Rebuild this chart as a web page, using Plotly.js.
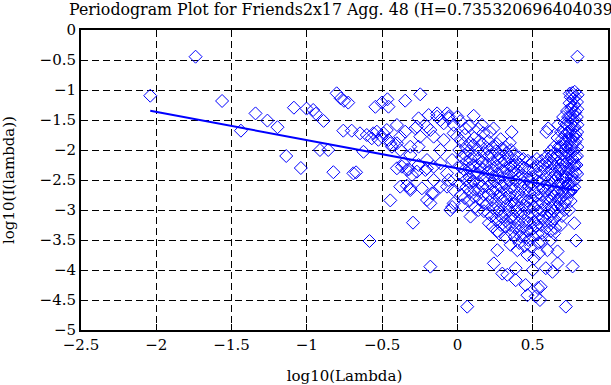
<!DOCTYPE html>
<html>
<head>
<meta charset="utf-8">
<script src="https://cdn.plot.ly/plotly-3.0.1.min.js"></script>
<style>
html,body{margin:0;padding:0;background:#fff;}
#chart{width:611px;height:385px;}
</style>
</head>
<body>
<div id="chart"></div>
<script>
// Low-frequency (sparse) periodogram points: log10(Lambda), log10(I(lambda))
const lambdaLow = [
-2.040,-1.739,-1.563,-1.438,-1.341,-1.262,-1.195,-1.137,-1.086,-1.040,
-1.002,-0.958,-0.940,-0.913,-0.889,-0.858,-0.824,-0.802,-0.775,-0.753,
-0.725,-0.758,-0.702,-0.691,-0.673,-0.647,-0.624,-0.602,-0.584,-0.569,
-0.558,-0.545,-0.535,-0.525,-0.502,-0.502,-0.491,-0.469,-0.465,-0.458,
-0.458,-0.446,-0.446,-0.435,-0.402,-0.402,-0.402,-0.380,-0.380,-0.380,
-0.369,-0.358,-0.347,-0.347,-0.336,-0.335,-0.324,-0.313,-0.313,-0.313,
-0.313,-0.302,-0.295,-0.280,-0.269,-0.269,-0.258,-0.258,-0.258,-0.247,
-0.247,-0.236,-0.213,-0.202,-0.202,-0.202,-0.202,-0.191,-0.180,-0.180,
-0.180,-0.169,-0.158,-0.158,-0.158,-0.158,-0.135,-0.135,-0.113,-0.113,
-0.113,-0.113,-0.091,-0.091,-0.069,-0.069,-0.068,-0.058,-0.058,-0.058,
-0.047,-0.035,-0.035,-0.025,-0.025,-0.025,-0.025,-0.002,0.000
];
const powerLow = [
-1.095,-0.445,-1.183,-1.678,-1.390,-1.510,-1.620,-2.100,-1.295,-2.300,
-1.310,-1.333,-1.395,-2.000,-1.515,-2.000,-2.370,-1.055,-1.140,-1.180,
-1.210,-1.678,-1.678,-2.389,-2.372,-1.722,-2.030,-1.750,-3.517,-1.805,
-1.722,-1.280,-1.695,-1.830,-1.210,-1.778,-1.722,-1.667,-1.155,-1.278,
-1.833,-2.840,-1.889,-1.945,-1.583,-1.888,-2.305,-1.778,-2.000,-2.611,
-2.278,-2.222,-1.178,-1.695,-2.595,-2.333,-2.322,-2.083,-2.639,-1.945,
-2.667,-2.417,-3.211,-1.638,-2.361,-1.611,-1.472,-1.945,-2.250,-1.072,
-1.778,-2.639,-2.333,-1.611,-2.306,-2.167,-2.833,-1.417,-2.889,-3.944,
-1.667,-2.722,-1.778,-2.278,-2.500,-2.722,-1.390,-1.445,-1.500,-2.000,
-2.222,-2.611,-1.833,-1.555,-2.611,-2.389,-1.390,-1.445,-1.472,-2.500,
-3.000,-2.950,-2.167,-1.583,-1.722,-2.667,-2.889,-1.778,-1.445
];
// Middle frequencies
const lambdaMid = [
0.018,0.025,0.012,0.030,0.020,0.028,0.015,0.024,0.032,
0.053,0.048,0.056,0.050,0.058,0.046,0.055,0.060,0.049,0.065,
0.087,0.078,0.084,0.076,0.088,0.081,0.079,0.086,0.083,0.077,
0.108,0.112,0.105,0.115,0.109,0.117,0.104,0.113,0.110,0.118,
0.138,0.145,0.135,0.142,0.148,0.136,0.144,0.140,0.147,0.139,
0.163,0.172,0.168,0.175,0.165,0.171,0.178,0.166,0.174,0.169,0.176,
0.205,0.198,0.208,0.195,0.203,0.210,0.200,0.207,0.196,0.204,0.209,
0.216,0.240,0.232,0.225,0.236,0.228,0.238,0.222,0.234,0.229,0.237,0.226,0.233,0.242,
0.262,0.255,0.268,0.258,0.265,0.252,0.261,0.267,0.256,0.264,0.259,0.265,0.265,0.276,
0.287,0.294,0.283,0.291,0.297,0.285,0.292,0.288,0.296,0.284,0.293,0.289,0.298,
0.320,0.318,0.325,0.314,0.322,0.328,0.316,0.324,0.319,0.327,0.315,0.323,0.321,0.331,
0.353,0.360,0.348,0.356,0.345,0.352,0.358,0.347,0.355,0.350,0.357,0.346,0.354,0.349,0.359,
0.387,0.387,0.378,0.385,0.374,0.382,0.388,0.376,0.384,0.379,0.386,0.375,0.383,0.398,0.380,
0.408,0.415,0.404,0.412,0.418,0.406,0.414,0.409,0.416,0.405,0.413,0.420,0.411,
0.438,0.445,0.434,0.442,0.448,0.436,0.444,0.439,0.446,0.435,0.443,0.447,0.453,
0.468,0.475,0.464,0.472,0.478,0.466,0.474,0.469,0.476,0.465,0.473,0.465,0.487,0.465
];
const powerMid = [
-1.52,-1.85,-2.00,-2.12,-2.28,-2.42,-2.58,-2.75,-2.92,
-1.64,-1.75,-1.95,-2.08,-2.20,-2.33,-2.50,-2.62,-2.80,-4.611,
-3.11,-1.60,-1.88,-2.02,-2.15,-2.30,-2.45,-2.55,-2.70,-2.85,
-1.43,-1.80,-1.92,-2.10,-2.25,-2.38,-2.52,-2.66,-2.78,-2.95,
-1.65,-1.85,-2.00,-2.14,-2.28,-2.40,-2.55,-2.68,-2.82,-3.00,
-1.58,-1.72,-1.90,-2.05,-2.20,-2.32,-2.46,-2.60,-2.74,-2.88,-3.02,
-1.85,-1.98,-2.10,-2.25,-2.37,-2.50,-2.62,-2.75,-2.90,-3.05,-3.22,
-1.70,-1.64,-1.95,-2.08,-2.20,-2.32,-2.44,-2.56,-2.70,-2.83,-2.97,-3.10,-3.28,-3.89,
-1.90,-2.02,-2.15,-2.27,-2.40,-2.52,-2.64,-2.77,-2.90,-3.03,-3.17,-3.35,-3.67,-3.39,
-1.82,-1.98,-2.10,-2.22,-2.35,-2.47,-2.60,-2.72,-2.85,-2.98,-3.12,-3.25,-4.06,
-3.28,-1.95,-2.05,-2.18,-2.30,-2.42,-2.55,-2.67,-2.80,-2.92,-3.05,-3.18,-3.45,-4.08,
-3.58,-1.70,-1.88,-2.00,-2.12,-2.25,-2.37,-2.50,-2.62,-2.74,-2.87,-3.00,-3.12,-3.25,-3.38,
-3.97,-4.17,-2.08,-2.18,-2.28,-2.40,-2.52,-2.65,-2.78,-2.90,-3.03,-3.15,-3.30,-3.67,-3.45,
-2.12,-2.24,-2.35,-2.47,-2.60,-2.72,-2.85,-2.97,-3.10,-3.22,-3.35,-3.44,-3.55,
-2.15,-2.30,-2.42,-2.55,-2.68,-2.80,-2.93,-3.05,-3.18,-3.30,-3.45,-3.60,-4.25,
-2.18,-2.35,-2.48,-2.60,-2.72,-2.85,-2.97,-3.10,-3.22,-3.35,-3.50,-3.75,-3.61,-4.42
];
// High frequencies (dense cluster and mirrored tail)
const lambdaHigh = [
0.498,0.505,0.495,0.502,0.508,0.496,0.504,0.499,0.506,0.497,0.503,0.509,0.500,0.520,
0.528,0.535,0.524,0.532,0.538,0.526,0.534,0.529,0.536,0.525,0.533,0.542,0.537,0.535,
0.558,0.565,0.554,0.562,0.568,0.556,0.564,0.559,0.566,0.555,0.563,0.560,0.553,0.548,
0.590,0.588,0.595,0.584,0.592,0.598,0.586,0.594,0.589,0.596,0.585,0.593,0.598,0.587,
0.603,0.618,0.625,0.614,0.622,0.628,0.616,0.624,0.619,0.626,0.615,0.623,0.620,0.620,0.631,
0.642,0.648,0.638,0.646,0.651,0.640,0.647,0.643,0.650,0.639,0.645,0.649,0.642,
0.669,0.665,0.672,0.662,0.670,0.676,0.664,0.671,0.667,0.674,0.663,0.668,0.665,0.665,
0.702,0.688,0.694,0.685,0.692,0.697,0.686,0.693,0.689,0.696,0.684,0.691,0.695,0.687,
0.712,0.708,0.715,0.706,0.713,0.718,0.709,0.716,0.711,0.717,0.707,0.714,0.710,0.720,
0.728,0.735,0.724,0.732,0.738,0.726,0.734,0.729,0.736,0.725,0.733,0.739,0.727,0.742,
0.746,0.752,0.745,0.755,0.748,0.753,0.744,0.751,0.756,0.747,0.754,0.749,0.757,0.743,0.750,0.752,
0.765,0.776,0.762,0.768,0.760,0.766,0.770,0.763,0.767,0.761,0.769,0.764,0.771,0.762,0.768,0.765,
0.787,0.779,0.782,0.776,0.784,0.780,0.777,0.785,0.781,0.778,0.783,0.779,0.786,0.780,0.776,
0.797,0.798,0.794,0.796,0.793,0.797,0.795,0.792,0.796,0.794,0.791,0.795
];
const powerHigh = [
-2.20,-2.32,-2.45,-2.57,-2.70,-2.82,-2.95,-3.07,-3.20,-3.32,-3.45,-3.81,-4.00,-4.44,
-2.15,-2.27,-2.40,-2.52,-2.65,-2.77,-2.90,-3.02,-3.15,-3.27,-3.40,-3.72,-3.55,-4.30,
-2.18,-2.25,-2.37,-2.50,-2.62,-2.75,-2.87,-3.00,-3.12,-3.25,-3.38,-3.52,-4.28,-4.50,
-1.70,-2.12,-2.20,-2.30,-2.43,-2.55,-2.68,-2.80,-2.93,-3.05,-3.18,-3.30,-3.67,-3.97,
-1.64,-2.02,-2.10,-2.22,-2.35,-2.47,-2.60,-2.72,-2.85,-2.97,-3.10,-3.22,-3.35,-3.50,-4.03,
-1.95,-2.05,-2.15,-2.27,-2.40,-2.52,-2.65,-2.77,-2.90,-3.02,-3.15,-3.30,-3.39,
-1.58,-1.80,-1.95,-2.08,-2.20,-2.32,-2.45,-2.57,-2.70,-2.82,-2.95,-3.08,-3.69,-3.89,
-1.45,-1.70,-1.82,-1.95,-2.07,-2.20,-2.32,-2.45,-2.57,-2.70,-2.82,-2.95,-3.10,-3.25,
-1.55,-1.65,-1.75,-1.87,-2.00,-2.12,-2.25,-2.37,-2.50,-2.62,-2.75,-2.88,-3.00,-4.61,
-1.35,-1.45,-1.57,-1.70,-1.82,-1.95,-2.07,-2.20,-2.32,-2.45,-2.57,-2.70,-2.82,-3.00,
-1.06,-1.12,-1.22,-1.32,-1.45,-1.57,-1.70,-1.82,-1.95,-2.07,-2.20,-2.32,-2.45,-2.57,-2.70,-2.85,
-3.94,-3.22,-1.05,-1.15,-1.28,-1.40,-1.52,-1.65,-1.77,-1.90,-2.02,-2.15,-2.27,-2.40,-2.52,-2.65,
-3.51,-1.03,-1.12,-1.25,-1.37,-1.50,-1.62,-1.75,-1.87,-2.00,-2.12,-2.25,-2.37,-2.50,-2.62,
-0.445,-1.08,-1.20,-1.32,-1.45,-1.58,-1.70,-1.82,-1.95,-2.10,-2.25,-2.40
];
// Least-squares fit line endpoints
const fitLambda = [-2.040, 0.798];
const fitPower = [-1.345, -2.680];

const chartTitle = 'Periodogram Plot for Friends2x17 Agg. 48 (H=0.735320696404039)';
const xLabel = 'log10(Lambda)';
const yLabel = 'log10(I(lambda))';

const font = 'DejaVu Serif, serif';

const fitTrace = {
  x: fitLambda, y: fitPower,
  type: 'scatter', mode: 'lines',
  line: {color: '#0000ff', width: 2},
  hoverinfo: 'skip'
};
const pointsTrace = {
  x: lambdaLow.concat(lambdaMid, lambdaHigh),
  y: powerLow.concat(powerMid, powerHigh),
  type: 'scatter',
  mode: 'markers',
  marker: {symbol: 'diamond-open', size: 10, color: '#0000ff', line: {width: 1, color: '#0000ff'}},
  hoverinfo: 'skip'
};

const axisCommon = {
  showgrid: true, gridcolor: '#000000', gridwidth: 1, griddash: '7px,4px',
  zeroline: false,
  showline: true, linecolor: '#000000', linewidth: 2, mirror: 'ticks',
  ticks: 'inside', ticklen: 6, tickcolor: '#000000', tickwidth: 1,
  tickfont: {family: font, size: 15, color: '#000000'},
  dtick: 0.5,
  fixedrange: true
};

const layout = {
  width: 611, height: 385,
  margin: {l: 81, r: 3, t: 30, b: 55, pad: 0},
  paper_bgcolor: '#ffffff', plot_bgcolor: '#ffffff',
  showlegend: false,
  title: {
    text: chartTitle,
    font: {family: font, size: 15.8, color: '#000000'},
    xref: 'container', x: 69/611, xanchor: 'left',
    yref: 'container', y: 1 - 9/385, yanchor: 'middle'
  },
  xaxis: Object.assign({}, axisCommon, {
    range: [-2.5, 1], tick0: -2.5,
    title: {text: xLabel, font: {family: font, size: 15, color: '#000000'}, standoff: 17}
  }),
  yaxis: Object.assign({}, axisCommon, {
    range: [-5, 0], tick0: 0,
    title: {text: yLabel, font: {family: font, size: 15, color: '#000000'}, standoff: 24}
  })
};

Plotly.newPlot('chart', [fitTrace, pointsTrace], layout, {staticPlot: true, displayModeBar: false});
</script>
</body>
</html>
